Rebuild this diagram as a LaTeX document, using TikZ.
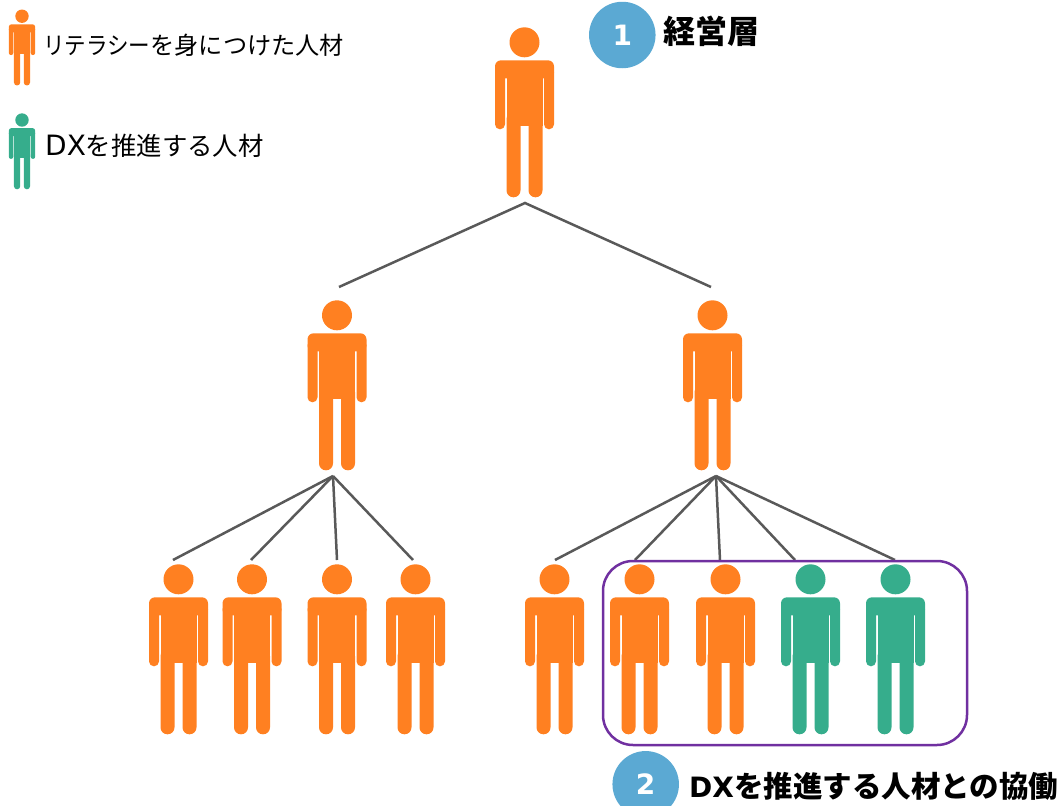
\documentclass[tikz,border=0pt]{standalone}
\usepackage{fontspec}
\newfontfamily\cjk{Noto Sans CJK JP}
\newfontfamily\lat{DejaVu Sans}
\definecolor{pOrange}{HTML}{FF8021}
\definecolor{pGreen}{HTML}{36AD8C}
\definecolor{pBlue}{HTML}{5BA9D3}
\definecolor{pLine}{HTML}{595959}
\definecolor{pPurple}{HTML}{7030A0}
\tikzset{
  x=1pt,y=-1pt,
  pics/person/.style={code={
    % origin: top of the head, on the centre line; #1 = scale, for the corner radii
    \fill (0,15) circle[radius=15];
    \fill[rounded corners=#1*6pt] (-29.5,33) rectangle (29.5,51);
    \fill[rounded corners=#1*4.9pt] (-29.5,40) rectangle (-19.5,102);
    \fill[rounded corners=#1*4.9pt] (19.5,40) rectangle (29.5,102);
    \fill (-18,40) rectangle (18,99);
    \fill[rounded corners=#1*6.9pt] (-18,85) rectangle (-4,170);
    \fill[rounded corners=#1*6.9pt] (4,85) rectangle (18,170);
  }},
  branch/.style={draw=pLine,line width=2.5pt},
  badge/.style={circle,fill=pBlue,minimum size=66.5pt,inner sep=0pt,text=white,font=\lat\bfseries\fontsize{28}{28}\selectfont},
  legendtext/.style={anchor=west,inner sep=0pt,text=black,font=\cjk\fontsize{24.2}{28}\selectfont},
  headtext/.style={anchor=west,inner sep=0pt,text=black,font=\cjk\bfseries\fontsize{29.5}{34}\selectfont},
  group/.style={draw=pPurple,line width=2.5pt,rounded corners=30pt}
}
\begin{document}
\begin{tikzpicture}
\useasboundingbox (0,0) rectangle (1061,806);

% legend
\pic[pOrange,scale=0.447] at (22,9.5) {person=0.447};
\pic[pGreen,scale=0.447] at (22,113.3) {person=0.447};
\node[legendtext] (legendA) at (43,45) {\scalebox{0.89}[1]{リテラシー}を身につけた人材};
\node[legendtext] (legendB) at (45,146) {{\lat\fontsize{28}{28}\selectfont DX}{\fontsize{25.4}{28}\selectfont を推進する人材}};

% people
\pic[pOrange] at (524.5,27.3) {person=1};
\pic[pOrange] at (337,300.3) {person=1};
\pic[pOrange] at (712.5,300.3) {person=1};
\foreach \px in {178.5,252,337,415.5,554.5,639.5,725.5}
  \pic[pOrange] at (\px,564.3) {person=1};
\foreach \px in {810.5,895.5}
  \pic[pGreen] at (\px,564.3) {person=1};

% connector ends
\coordinate (top) at (525,203);
\coordinate (midL) at (339,287);
\coordinate (midR) at (711,287);
\coordinate (hubL) at (333,476);
\coordinate (hubR) at (716,476);
\coordinate (l1) at (173,560);
\coordinate (l2) at (251,560);
\coordinate (l3) at (337,560);
\coordinate (l4) at (413,560);
\coordinate (r1) at (555,560);
\coordinate (r2) at (635,560);
\coordinate (r3) at (720,560);
\coordinate (r4) at (795,560);
\coordinate (r5) at (895,560);

\draw[branch,line join=miter] (midL) -- (top) -- (midR);
\foreach \e in {l1,l2,l3,l4} \draw[branch] (hubL) -- (\e);
\foreach \e in {r1,r2,r3,r4,r5} \draw[branch] (hubR) -- (\e);

% group frame
\node[group,minimum width=364pt,minimum height=184pt,inner sep=0pt] (frame) at (785,653) {};

% badges and headings
\node[badge] (b1) at (622.3,35) {1};
\node[headtext,font=\cjk\bfseries\fontsize{32}{34}\selectfont] (h1) at (663,31) {経営層};
\node[badge] (b2) at (645.7,784.3) {2};
\node[headtext] (h2) at (689,786) {{\lat\bfseries\fontsize{28}{34}\selectfont DX}を推進する人材との協働};
\end{tikzpicture}
\end{document}
